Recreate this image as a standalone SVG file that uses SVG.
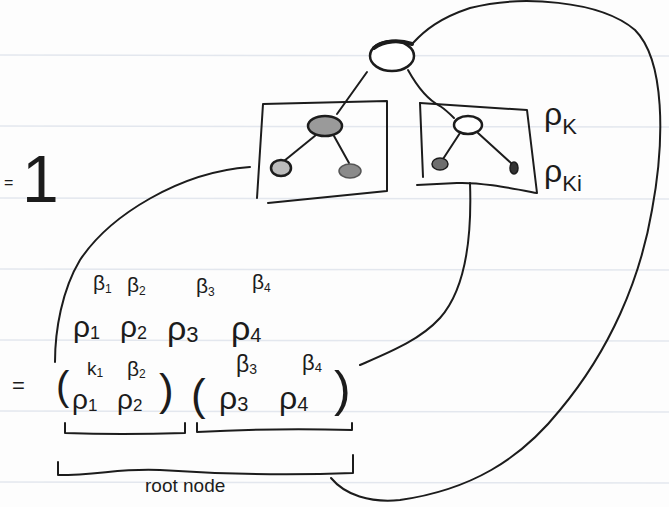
<svg xmlns="http://www.w3.org/2000/svg" width="669" height="507" viewBox="0 0 669 507">
<style>
.ink{fill:none;stroke:#1c1c1c;stroke-width:2;stroke-linecap:round;stroke-linejoin:round}
.rule{stroke:#e3e7ee;stroke-width:1.5}
.t{font-family:"Liberation Sans","DejaVu Sans",sans-serif;fill:#1c1c1c}
.nd{stroke:#1c1c1c;stroke-width:2.5}
</style>
<rect width="669" height="507" fill="#fdfdfd"/>
<g id="ruled-lines">
<line class="rule" x1="0" y1="55" x2="669" y2="56"/>
<line class="rule" x1="0" y1="126" x2="669" y2="127"/>
<line class="rule" x1="0" y1="198" x2="669" y2="199"/>
<line class="rule" x1="0" y1="269" x2="669" y2="270"/>
<line class="rule" x1="0" y1="340" x2="669" y2="341"/>
<line class="rule" x1="0" y1="411" x2="669" y2="412"/>
<line class="rule" x1="0" y1="482" x2="669" y2="483"/>
</g>
<g id="connectors">
<path class="ink" d="M413,43 C425,30 440,18 470,8 C520,-5 600,0 635,30 C665,60 665,140 652,210 C640,280 610,350 560,410 C520,460 470,490 400,500 C370,503 345,495 331,478"/>
<path class="ink" d="M250,167 C180,172 110,215 80,260 C62,290 55,330 55,362"/>
<path class="ink" d="M470,183 C472,240 465,290 440,318 C420,340 390,352 360,365"/>
<path class="ink" d="M367,72 L337,114" stroke-width="2.5"/>
<path class="ink" d="M408,70 C418,88 428,100 440,106 C446,110 450,114 454,118" stroke-width="2.5"/>
</g>
<g id="root-node">
<ellipse class="nd" cx="392" cy="56" rx="22" ry="15" fill="#fff"/>
<path d="M374,48 C384,40 400,40 412,44" fill="none" stroke="#1c1c1c" stroke-width="4" stroke-linecap="round"/>
</g>
<g id="left-subtree">
<path class="ink" d="M257,198 L263,104 L387,101 L387,191 L268,203"/>
<path class="ink" d="M316,135 L284,161"/>
<path class="ink" d="M334,136 L349,163"/>
<ellipse class="nd" cx="325" cy="126" rx="17" ry="10" fill="#9a9a9a"/>
<ellipse class="nd" cx="281" cy="168" rx="10" ry="8" fill="#bbb" stroke-width="2"/>
<ellipse cx="350" cy="171" rx="11" ry="7" fill="#8a8a8a" stroke="#555" stroke-width="1.5"/>
</g>
<g id="right-subtree">
<path class="ink" d="M420,103 L527,110 L537,193 C510,188 480,182 457,183 L417,185"/>
<path class="ink" d="M420,103 L423,177"/>
<path class="ink" d="M460,133 L443,159"/>
<path class="ink" d="M478,133 L511,163"/>
<ellipse class="nd" cx="468" cy="125" rx="14" ry="9" fill="#fff" stroke-width="3.5"/>
<ellipse cx="440" cy="164" rx="8" ry="6" fill="#6e6e6e" stroke="#1c1c1c" stroke-width="1.5"/>
<ellipse cx="514" cy="168" rx="4" ry="6" fill="#333" stroke="#1c1c1c" stroke-width="1.5"/>
</g>
<g id="subtree-labels" class="t">
<text x="544" y="125" font-size="32">ρ<tspan font-size="22" dy="9">K</tspan></text>
<text x="544" y="182" font-size="32">ρ<tspan font-size="22" dy="9">Ki</tspan></text>
</g>
<g id="equals-one" class="t">
<text x="4" y="188" font-size="16">=</text>
<text x="22" y="202" font-size="66">1</text>
</g>
<g id="sequence" class="t">
<text x="12" y="393" font-size="22">=</text>
<text x="93" y="290" font-size="21">β<tspan font-size="12" dy="3">1</tspan></text>
<text x="127" y="292" font-size="21">β<tspan font-size="12" dy="3">2</tspan></text>
<text x="196" y="293" font-size="21">β<tspan font-size="12" dy="3">3</tspan></text>
<text x="252" y="289" font-size="21">β<tspan font-size="12" dy="3">4</tspan></text>
<text x="73" y="337" font-size="30">ρ<tspan font-size="18" dy="2">1</tspan></text>
<text x="120" y="337" font-size="30">ρ<tspan font-size="18" dy="2">2</tspan></text>
<text x="167" y="340" font-size="34">ρ<tspan font-size="22" dy="2">3</tspan></text>
<text x="231" y="340" font-size="34">ρ<tspan font-size="20" dy="2">4</tspan></text>
</g>
<g id="group-1" class="t">
<text x="56" y="400" font-size="40">(</text>
<text x="87" y="375" font-size="19">k<tspan font-size="12" dy="2">1</tspan></text>
<text x="127" y="376" font-size="21">β<tspan font-size="12" dy="2">2</tspan></text>
<text x="72" y="409" font-size="28">ρ<tspan font-size="17" dy="2">1</tspan></text>
<text x="117" y="409" font-size="28">ρ<tspan font-size="17" dy="2">2</tspan></text>
<text x="159" y="405" font-size="44">)</text>
<path class="ink" d="M65,423 L65,433 Q120,435 185,433 L185,423"/>
</g>
<g id="group-2" class="t">
<text x="191" y="410" font-size="44">(</text>
<text x="236" y="372" font-size="23">β<tspan font-size="14" dy="2">3</tspan></text>
<text x="302" y="370" font-size="22">β<tspan font-size="13" dy="2">4</tspan></text>
<text x="219" y="409" font-size="32">ρ<tspan font-size="20" dy="2">3</tspan></text>
<text x="279" y="409" font-size="32">ρ<tspan font-size="20" dy="2">4</tspan></text>
<text x="334" y="406" font-size="50">)</text>
<path class="ink" d="M197,423 L197,432 Q270,428 352,430 L352,423"/>
</g>
<g id="root-node-bracket" class="t">
<path class="ink" d="M58,462 L58,475 C100,475 120,468 160,470 C220,474 280,476 353,473 L353,455"/>
<text x="145" y="492" font-size="19">root node</text>
</g>
</svg>
